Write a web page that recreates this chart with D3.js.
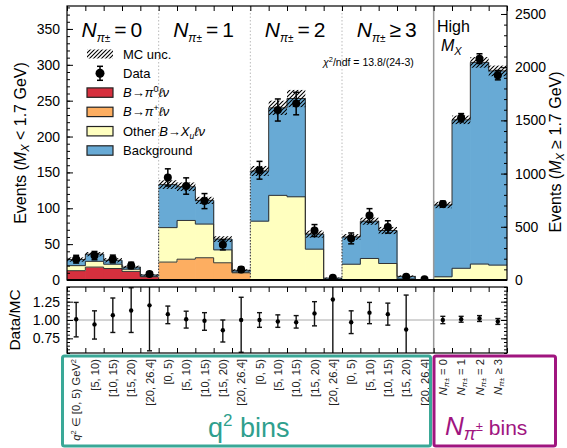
<!DOCTYPE html>
<html>
<head>
<meta charset="utf-8">
<script src="https://cdn.jsdelivr.net/npm/d3@7"></script>
<style>
body { margin: 0; background: #fff; }
svg text { font-family: "Liberation Sans", Arial, sans-serif; }
</style>
</head>
<body>
<svg id="chart" width="567" height="448"></svg>
<script>
// bin labels
var q2Bins = ["[0, 5)", "[5, 10)", "[10, 15)", "[15, 20)", "[20, 26.4]"];
var npiGroups = ["= 0", "= 1", "= 2", "\u2265 3"];
// yields per bin: 20 low-MX bins (left axis) then 4 high-MX bins (right axis)
var piZero = [13, 18, 16, 12, 4.5, 0, 0, 0, 0, 0, 0, 0, 0, 0, 0, 0, 0, 0, 0, 0, 0, 0, 0, 0];
var piPlus = [0, 0, 0, 0, 0, 25, 29, 31, 24, 10, 0, 0, 0, 0, 0, 0, 0, 0, 0, 0, 0, 0, 0, 0];
var otherXu = [7, 8, 6, 3, 0.5, 48, 54, 47, 18, 1, 82, 118, 116, 43, 0.8, 22, 30, 23, 1.5, 0.2, 30, 110, 150, 140];
var background = [8.5, 10, 5.5, 3, 2, 60, 47, 33, 15, 2.5, 70, 122, 137, 21, 1.8, 38, 52, 46, 3.5, 0.4, 675, 1395, 1895, 1825];
var mcUnc = [3, 3, 3, 2, 1, 6, 6, 5, 4, 1.5, 7, 10, 12, 5, 0.8, 4, 5, 5, 1.5, 0.5, 30, 40, 50, 50];
var dataY = [29, 34, 29.3, 20.3, 8.4, 143, 131, 110, 49, 14.5, 153, 237, 246, 69, 3.3, 58, 90, 74, 4.4, 1, 715, 1525, 2080, 1925];
var dataErr = [5.4, 5.8, 5.4, 4.5, 2.9, 12, 11.4, 10.5, 7, 3.8, 12.4, 15.4, 15.7, 8.3, 1.8, 7.6, 9.5, 8.6, 2.1, 1, 27, 39, 46, 44];
// data/MC ratio (null = not shown)
var ratio = [1.01, 0.94, 1.065, 1.13, 1.2, 1.08, 1.01, 0.99, 0.86, 1.0, 1.0, 0.98, 0.97, 1.09, 1.28, 0.97, 1.10, 1.08, 0.87, null, 1.0, 1.01, 1.02, 0.98];
var ratioLo = [0.77, 0.74, 0.83, 0.83, 0.58, 0.95, 0.89, 0.86, 0.70, 0.56, 0.90, 0.90, 0.89, 0.92, 0.3, 0.815, 0.95, 0.93, 0.4, null, 0.95, 0.97, 0.98, 0.94];
var ratioHi = [1.24, 1.125, 1.30, 1.44, 1.6, 1.19, 1.12, 1.10, 1.00, 1.31, 1.10, 1.07, 1.06, 1.25, 2.2, 1.125, 1.24, 1.23, 1.34, null, 1.05, 1.05, 1.06, 1.02];
var leftTicks = [0, 50, 100, 150, 200, 250, 300, 350];
var rightTicks = [0, 500, 1000, 1500, 2000, 2500];
var ratioTicks = [0.75, 1.0, 1.25];

var colors = ["#d6303e", "#fdae61", "#ffffbf", "#68aad5"];
var layers = [piZero, piPlus, otherXu, background];
var groupEdges = [[0, 5], [5, 10], [10, 15], [15, 20], [20, 24]];
var nBins = 24;

var svg = d3.select("#chart");
var x = d3.scaleLinear().domain([0, nBins]).range([67, 507]);
var yL = d3.scaleLinear().domain([0, 382]).range([280, 6]);
var yR = d3.scaleLinear().domain([0, 2575]).range([280, 6]);
var yRat = d3.scaleLinear().domain([0.55, 1.45]).range([353, 287]);
function yOf(i) { return i < 20 ? yL : yR; }

var defs = svg.append("defs");
defs.append("pattern").attr("id", "hatch").attr("patternUnits", "userSpaceOnUse")
    .attr("width", 4).attr("height", 4)
    .append("path").attr("d", "M-1,1 l2,-2 M0,4 l4,-4 M3,5 l2,-2")
    .attr("stroke", "#000").attr("stroke-width", 1.1);
defs.append("clipPath").attr("id", "clipTop").append("rect")
    .attr("x", 67).attr("y", 6).attr("width", 440).attr("height", 274);
defs.append("clipPath").attr("id", "clipRat").append("rect")
    .attr("x", 67).attr("y", 287).attr("width", 440).attr("height", 66);

// ---- top panel: stacked histogram
var bins = d3.range(nBins);
var stacked = bins.map(function (i) {
    var c = 0;
    return layers.map(function (L) { var lo = c; c += L[i]; return [lo, c]; });
});
var topG = svg.append("g").attr("clip-path", "url(#clipTop)");
layers.forEach(function (L, k) {
    topG.selectAll(".l" + k).data(bins.filter(function (i) { return L[i] > 0; }))
        .enter().append("rect")
        .attr("x", function (i) { return x(i); })
        .attr("width", function (i) { return x(i + 1) - x(i) + 0.6; })
        .attr("y", function (i) { return yOf(i)(stacked[i][k][1]); })
        .attr("height", function (i) { return yOf(i)(stacked[i][k][0]) - yOf(i)(stacked[i][k][1]) + 0.3; })
        .attr("fill", colors[k]);
});
// step outlines
var line = d3.line().x(function (d) { return d[0]; }).y(function (d) { return d[1]; });
groupEdges.forEach(function (g) {
    layers.forEach(function (L, k) {
        var has = d3.range(g[0], g[1]).some(function (i) { return L[i] > 0; });
        if (!has) return;
        var pts = [];
        for (var i = g[0]; i < g[1]; i++) {
            var yy = yOf(i)(stacked[i][k][1]);
            pts.push([x(i), yy]); pts.push([x(i + 1), yy]);
        }
        topG.append("path").datum(pts).attr("d", line)
            .attr("fill", "none").attr("stroke", "#333").attr("stroke-width", 1);
    });
});
// MC uncertainty hatch
topG.selectAll(".unc").data(bins).enter().append("rect")
    .attr("x", function (i) { return x(i); })
    .attr("width", function (i) { return x(i + 1) - x(i); })
    .attr("y", function (i) { return yOf(i)(stacked[i][3][1] + mcUnc[i]); })
    .attr("height", function (i) { return yOf(i)(stacked[i][3][1] - mcUnc[i]) - yOf(i)(stacked[i][3][1] + mcUnc[i]); })
    .attr("fill", "url(#hatch)");
// group separators
[5, 10, 15].forEach(function (b) {
    svg.append("line").attr("x1", x(b)).attr("x2", x(b)).attr("y1", 6).attr("y2", 280)
        .attr("stroke", "#bbb").attr("stroke-dasharray", "1.5,2");
    var top = Math.max(stacked[b - 1][3][1], stacked[b][3][1]);
    svg.append("line").attr("x1", x(b)).attr("x2", x(b)).attr("y1", yL(top)).attr("y2", 280)
        .attr("stroke", "#333").attr("stroke-dasharray", "1.5,1.5");
});
svg.append("line").attr("x1", x(20)).attr("x2", x(20)).attr("y1", 6).attr("y2", 280)
    .attr("stroke", "#999").attr("stroke-width", 1.5);
svg.append("line").attr("x1", x(20)).attr("x2", x(20)).attr("y1", 287).attr("y2", 353)
    .attr("stroke", "#999").attr("stroke-width", 1.5);

// data points
var dataG = svg.append("g").attr("clip-path", "url(#clipTop)");
bins.forEach(function (i) {
    var cx = (x(i) + x(i + 1)) / 2, s = yOf(i);
    dataG.append("line").attr("x1", cx).attr("x2", cx)
        .attr("y1", s(dataY[i] - dataErr[i])).attr("y2", s(dataY[i] + dataErr[i]))
        .attr("stroke", "#000").attr("stroke-width", 1.5);
    [dataY[i] - dataErr[i], dataY[i] + dataErr[i]].forEach(function (v) {
        dataG.append("line").attr("x1", cx - 3).attr("x2", cx + 3).attr("y1", s(v)).attr("y2", s(v))
            .attr("stroke", "#000").attr("stroke-width", 1.5);
    });
    dataG.append("circle").attr("cx", cx).attr("cy", s(dataY[i])).attr("r", 4).attr("fill", "#000");
});

// axes, top panel
function axisStyle(g) {
    g.select(".domain").remove();
    g.selectAll("text").attr("font-size", 14).attr("fill", "#000")
        .attr("font-family", "Liberation Sans, Arial, sans-serif");
}
svg.append("g").attr("transform", "translate(67,0)")
    .call(d3.axisLeft(yL).tickValues(leftTicks).tickSize(-6).tickPadding(7)).call(axisStyle);
svg.append("g").attr("transform", "translate(67,0)")
    .call(d3.axisLeft(yL).tickValues(d3.range(0, 381, 10)).tickSize(-3).tickFormat("")).call(axisStyle);
svg.append("g").attr("transform", "translate(507,0)")
    .call(d3.axisRight(yR).tickValues(rightTicks).tickSize(-6).tickPadding(8).tickFormat(d3.format("d")))
    .call(axisStyle);
svg.append("g").attr("transform", "translate(507,0)")
    .call(d3.axisRight(yR).tickValues(d3.range(0, 2575, 100)).tickSize(-3).tickFormat("")).call(axisStyle);
svg.append("g").attr("transform", "translate(0,6)")
    .call(d3.axisTop(x).tickValues(d3.range(0, 25)).tickSize(-5).tickFormat("")).call(axisStyle);
svg.append("rect").attr("x", 67).attr("y", 6).attr("width", 440).attr("height", 274)
    .attr("fill", "none").attr("stroke", "#000").attr("stroke-width", 1.2);
svg.append("line").attr("x1", 67).attr("x2", 507).attr("y1", 280).attr("y2", 280)
    .attr("stroke", "#000").attr("stroke-width", 2);

// axis titles
var lt = svg.append("text").attr("transform", "translate(26,143) rotate(-90)")
    .attr("text-anchor", "middle").attr("font-size", 16);
lt.append("tspan").text("Events (");
lt.append("tspan").attr("font-style", "italic").text("M");
lt.append("tspan").attr("font-style", "italic").attr("font-size", 11).attr("dy", 3).text("X");
lt.append("tspan").attr("dy", -3).text(" < 1.7 GeV)");
var rt = svg.append("text").attr("transform", "translate(561,152) rotate(-90)")
    .attr("text-anchor", "middle").attr("font-size", 16);
rt.append("tspan").text("Events (");
rt.append("tspan").attr("font-style", "italic").text("M");
rt.append("tspan").attr("font-style", "italic").attr("font-size", 11).attr("dy", 3).text("X");
rt.append("tspan").attr("dy", -3).text(" \u2265 1.7 GeV)");

// group headings
groupEdges.slice(0, 4).forEach(function (g, j) {
    var t = svg.append("text").attr("x", (x(g[0]) + x(g[1])) / 2 - 1).attr("y", 37)
        .attr("text-anchor", "middle").attr("font-size", 21)
        .attr("font-family", "DejaVu Sans, sans-serif");
    var parts = npiGroups[j].split(" ");
    t.append("tspan").attr("font-style", "italic").text("N");
    t.append("tspan").attr("font-style", "italic").attr("font-size", 12).attr("dy", 5).text("\u03c0");
    t.append("tspan").attr("font-size", 10).text("\u00b1");
    t.append("tspan").attr("dy", -5).attr("dx", 4).text(parts[0]);
    t.append("tspan").attr("dx", 4).text(parts[1]);
});
svg.append("text").attr("x", 437).attr("y", 32).attr("font-size", 16)
    .attr("font-family", "DejaVu Sans, sans-serif").text("High");
var mx = svg.append("text").attr("x", 441).attr("y", 51).attr("font-size", 16)
    .attr("font-family", "DejaVu Sans, sans-serif");
mx.append("tspan").attr("font-style", "italic").text("M");
mx.append("tspan").attr("font-style", "italic").attr("font-size", 11).attr("dy", 4).text("X");

var chi = svg.append("text").attr("x", 323).attr("y", 65.5).attr("font-size", 10.5);
chi.append("tspan").attr("font-style", "italic").text("\u03c7");
chi.append("tspan").attr("font-size", 7.5).attr("dy", -4).text("2");
chi.append("tspan").attr("dy", 4).text("/ndf = 13.8/(24-3)");

// legend
var legY = [54, 73.3, 92.6, 111.9, 131.2, 150.5];
svg.append("rect").attr("x", 87).attr("y", legY[0] - 4.5).attr("width", 26).attr("height", 9)
    .attr("fill", "url(#hatch)");
svg.append("line").attr("x1", 100).attr("x2", 100).attr("y1", legY[1] - 7).attr("y2", legY[1] + 7)
    .attr("stroke", "#000").attr("stroke-width", 1.5);
[-7, 7].forEach(function (d) {
    svg.append("line").attr("x1", 97).attr("x2", 103).attr("y1", legY[1] + d).attr("y2", legY[1] + d)
        .attr("stroke", "#000").attr("stroke-width", 1.5);
});
svg.append("circle").attr("cx", 100).attr("cy", legY[1]).attr("r", 4.5).attr("fill", "#000");
colors.forEach(function (c, k) {
    svg.append("rect").attr("x", 87).attr("y", legY[k + 2] - 4.7).attr("width", 26).attr("height", 9.4)
        .attr("fill", c).attr("stroke", "#222").attr("stroke-width", 1.2);
});
function legText(k) {
    return svg.append("text").attr("x", 123).attr("y", legY[k] + 4.5).attr("font-size", 13);
}
legText(0).text("MC unc.");
legText(1).text("Data");
[["0"], ["+"]].forEach(function (sup, j) {
    var t = legText(2 + j);
    t.append("tspan").attr("font-style", "italic").text("B");
    t.append("tspan").text("\u2192");
    t.append("tspan").attr("font-style", "italic").text("\u03c0");
    t.append("tspan").attr("font-size", 9).attr("dy", -5).text(sup[0]);
    t.append("tspan").attr("font-style", "italic").attr("dy", 5).text("\u2113\u03bd");
});
var ot = legText(4);
ot.append("tspan").text("Other ");
ot.append("tspan").attr("font-style", "italic").text("B");
ot.append("tspan").text("\u2192");
ot.append("tspan").attr("font-style", "italic").text("X");
ot.append("tspan").attr("font-style", "italic").attr("font-size", 8.5).attr("dy", 3).text("u");
ot.append("tspan").attr("font-style", "italic").attr("dy", -3).text("\u2113\u03bd");
legText(5).text("Background");

// ---- ratio panel
svg.append("line").attr("x1", 67).attr("x2", 507).attr("y1", yRat(1)).attr("y2", yRat(1))
    .attr("stroke", "#aaa").attr("stroke-width", 1);
var ratG = svg.append("g").attr("clip-path", "url(#clipRat)");
bins.forEach(function (i) {
    if (ratio[i] === null) return;
    var cx = (x(i) + x(i + 1)) / 2;
    ratG.append("line").attr("x1", cx).attr("x2", cx)
        .attr("y1", yRat(ratioLo[i])).attr("y2", yRat(ratioHi[i]))
        .attr("stroke", "#111").attr("stroke-width", 1.4);
    [ratioLo[i], ratioHi[i]].forEach(function (v) {
        ratG.append("line").attr("x1", cx - 2.5).attr("x2", cx + 2.5).attr("y1", yRat(v)).attr("y2", yRat(v))
            .attr("stroke", "#111").attr("stroke-width", 1.4);
    });
    ratG.append("circle").attr("cx", cx).attr("cy", yRat(ratio[i])).attr("r", 2.2).attr("fill", "#000");
});
svg.append("g").attr("transform", "translate(67,0)")
    .call(d3.axisLeft(yRat).tickValues(ratioTicks).tickSize(-6).tickPadding(7).tickFormat(d3.format(".2f")))
    .call(axisStyle);
svg.append("g").attr("transform", "translate(67,0)")
    .call(d3.axisLeft(yRat).tickValues(d3.range(0.55, 1.451, 0.05)).tickSize(-3).tickFormat("")).call(axisStyle);
svg.append("g").attr("transform", "translate(507,0)")
    .call(d3.axisRight(yRat).tickValues(ratioTicks).tickSize(-6).tickFormat("")).call(axisStyle);
svg.append("g").attr("transform", "translate(507,0)")
    .call(d3.axisRight(yRat).tickValues(d3.range(0.55, 1.451, 0.05)).tickSize(-3).tickFormat("")).call(axisStyle);
svg.append("g").attr("transform", "translate(0,287)")
    .call(d3.axisTop(x).tickValues(d3.range(0, 25)).tickSize(-5).tickFormat("")).call(axisStyle);
svg.append("g").attr("transform", "translate(0,353)")
    .call(d3.axisBottom(x).tickValues(d3.range(0, 25)).tickSize(-5).tickFormat("")).call(axisStyle);
svg.append("rect").attr("x", 67).attr("y", 287).attr("width", 440).attr("height", 66)
    .attr("fill", "none").attr("stroke", "#000").attr("stroke-width", 1.2);
svg.append("text").attr("transform", "translate(20,320) rotate(-90)").attr("text-anchor", "middle")
    .attr("font-size", 15.5).text("Data/MC");

// ---- bin labels
bins.forEach(function (i) {
    var cx = (x(i) + x(i + 1)) / 2;
    var t = svg.append("text").attr("transform", "translate(" + (cx + 4) + ",359) rotate(-90)")
        .attr("text-anchor", "end").attr("font-size", 11.2).attr("fill", "#222")
        .attr("font-family", "Open Sans, sans-serif");
    if (i === 0) {
        t.append("tspan").attr("font-style", "italic").text("q");
        t.append("tspan").attr("font-size", 7.5).attr("dy", -4).text("2");
        t.append("tspan").attr("dy", 4).text(" \u2208 " + q2Bins[0] + " GeV");
        t.append("tspan").attr("font-size", 7.5).attr("dy", -4).text("2");
    } else if (i < 20) {
        t.text(q2Bins[i % 5]);
    } else {
        t.append("tspan").attr("font-style", "italic").attr("font-size", 11.5).text("N");
        t.append("tspan").attr("font-style", "italic").attr("font-size", 8).attr("dy", 2).text("\u03c0");
        t.append("tspan").attr("font-size", 7).text("\u00b1");
        t.append("tspan").attr("dy", -2).text(" " + npiGroups[i - 20]);
    }
});

// category boxes
svg.append("rect").attr("x", 62.5).attr("y", 356).attr("width", 368).attr("height", 90).attr("rx", 2)
    .attr("fill", "none").attr("stroke", "#3aa897").attr("stroke-width", 3);
svg.append("rect").attr("x", 434).attr("y", 356).attr("width", 121.5).attr("height", 90).attr("rx", 2)
    .attr("fill", "none").attr("stroke", "#a0157f").attr("stroke-width", 3);
var qb = svg.append("text").attr("x", 208).attr("y", 437).attr("font-size", 27).attr("fill", "#2f9f8e")
    .attr("font-family", "Open Sans, sans-serif");
qb.append("tspan").text("q");
qb.append("tspan").attr("font-size", 17).attr("dy", -11).text("2");
qb.append("tspan").attr("dy", 11).text(" bins");
var nb = svg.append("text").attr("x", 445).attr("y", 435).attr("font-size", 21).attr("fill", "#a0157f")
    .attr("font-family", "Open Sans, sans-serif");
nb.append("tspan").attr("font-style", "italic").attr("font-size", 26).text("N");
nb.append("tspan").attr("font-style", "italic").attr("font-size", 18).attr("dy", 5).text("\u03c0");
nb.append("tspan").attr("font-size", 13).attr("dy", -9).text("\u00b1");
nb.append("tspan").attr("dy", 4).text(" bins");
</script>
</body>
</html>
